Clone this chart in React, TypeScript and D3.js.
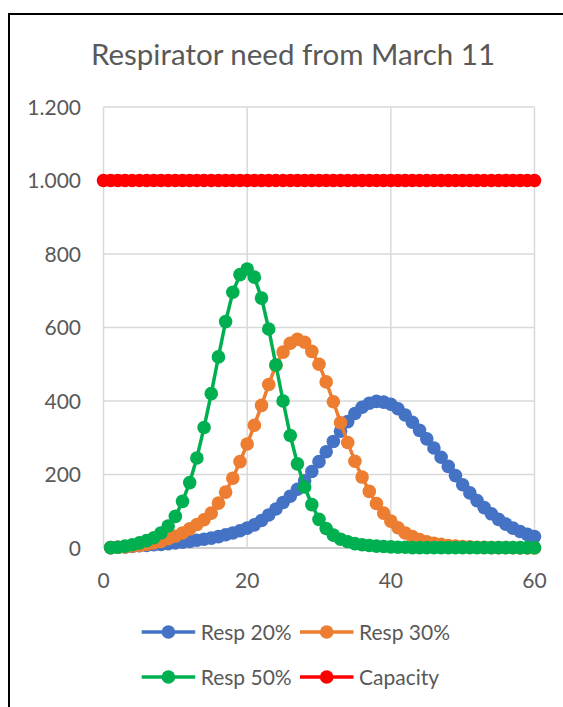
import { useEffect, useRef } from 'react';
import * as d3 from 'd3';

// Series, one value per day starting at day 1
const resp20 = [
  1, 2, 3, 4, 6, 7, 9, 10, 12, 14, 16, 18, 21, 24, 27, 31, 36, 41, 47, 54,
  63, 75, 90, 106, 124, 141, 160, 183, 208, 235, 262, 290, 318, 344, 366, 383, 394, 399, 397, 391,
  379, 362, 342, 320, 297, 272, 247, 222, 197, 172, 150, 129, 110, 93, 78, 65, 54, 45, 37, 31,
];
const resp30 = [
  1, 2, 3, 5, 7, 10, 14, 18, 25, 32, 41, 52, 64, 77, 95, 122, 152, 190, 235, 283,
  334, 388, 445, 497, 533, 557, 568, 560, 535, 500, 452, 398, 341, 287, 236, 193, 154, 121, 95, 73,
  55, 41, 31, 23, 17, 13, 10, 7, 5, 4, 3, 2, 2, 1, 1, 1, 1, 0, 0, 0,
];
const resp50 = [
  1, 2, 5, 9, 14, 20, 28, 41, 60, 86, 127, 178, 245, 328, 420, 520, 616, 696, 744, 759,
  737, 680, 596, 498, 400, 306, 229, 166, 118, 78, 53, 35, 24, 17, 12, 9, 7, 5, 4, 3,
  2, 2, 1, 1, 1, 1, 1, 1, 1, 1, 1, 1, 1, 1, 1, 1, 1, 1, 1, 1,
];
// Capacity starts at day 0
const capacity = [
  1000, 1000, 1000, 1000, 1000, 1000, 1000, 1000, 1000, 1000, 1000, 1000, 1000, 1000, 1000, 1000,
  1000, 1000, 1000, 1000, 1000, 1000, 1000, 1000, 1000, 1000, 1000, 1000, 1000, 1000, 1000, 1000,
  1000, 1000, 1000, 1000, 1000, 1000, 1000, 1000, 1000, 1000, 1000, 1000, 1000, 1000, 1000, 1000,
  1000, 1000, 1000, 1000, 1000, 1000, 1000, 1000, 1000, 1000, 1000, 1000, 1000,
];

const xTicks = [0, 20, 40, 60];
const yTicks = [0, 200, 400, 600, 800, 1000, 1200];

interface Series {
  name: string;
  color: string;
  start: number;
  values: number[];
}

const SERIES: Series[] = [
  { name: 'Resp 20%', color: '#4472C4', start: 1, values: resp20 },
  { name: 'Resp 30%', color: '#ED7D31', start: 1, values: resp30 },
  { name: 'Resp 50%', color: '#00B050', start: 1, values: resp50 },
  { name: 'Capacity', color: '#FF0000', start: 0, values: capacity },
];

const WIDTH = 563;
const HEIGHT = 707;
const PLOT = { left: 103.5, right: 534.5, top: 107, bottom: 548 };
const FONT = 'Lato, "Open Sans", sans-serif';
const TEXT = '#595959';
const R = 6.8;

// European number format: 1.000
const fmtY = (v: number) => d3.format(',')(v).replace(/,/g, '.');

export default function App() {
  const svgRef = useRef<SVGSVGElement>(null);

  useEffect(() => {
    if (!svgRef.current) return;
    const svg = d3.select(svgRef.current);
    svg.selectAll('*').remove();

    const x = d3.scaleLinear().domain([0, 60]).range([PLOT.left, PLOT.right]);
    const y = d3.scaleLinear().domain([0, 1200]).range([PLOT.bottom, PLOT.top]);

    svg.append('rect').attr('width', WIDTH).attr('height', HEIGHT).attr('fill', '#ffffff');

    // Chart frame (runs off the right and bottom of the picture)
    svg
      .append('rect')
      .attr('x', 9)
      .attr('y', 14)
      .attr('width', WIDTH + 40)
      .attr('height', HEIGHT + 40)
      .attr('fill', 'none')
      .attr('stroke', '#000000')
      .attr('stroke-width', 2);

    // Title
    svg
      .append('text')
      .attr('x', 293)
      .attr('y', 65)
      .attr('text-anchor', 'middle')
      .attr('font-family', FONT)
      .attr('font-size', '29.5px')
      .attr('fill', TEXT)
      .text('Respirator need from March 11');

    // Gridlines
    const grid = svg.append('g');
    yTicks.forEach(t => {
      grid
        .append('line')
        .attr('x1', PLOT.left)
        .attr('x2', PLOT.right)
        .attr('y1', y(t))
        .attr('y2', y(t))
        .attr('stroke', t === 0 ? '#BFBFBF' : '#D9D9D9')
        .attr('stroke-width', 1.5);
    });
    xTicks.forEach(t => {
      grid
        .append('line')
        .attr('x1', x(t))
        .attr('x2', x(t))
        .attr('y1', PLOT.top)
        .attr('y2', PLOT.bottom)
        .attr('stroke', '#D9D9D9')
        .attr('stroke-width', 1.5);
    });

    // Y tick labels
    yTicks.forEach(t => {
      svg
        .append('text')
        .attr('x', 81)
        .attr('y', y(t))
        .attr('dy', '0.36em')
        .attr('text-anchor', 'end')
        .attr('font-family', FONT)
        .attr('font-size', '21px')
        .attr('fill', TEXT)
        .text(fmtY(t));
    });

    // X tick labels
    xTicks.forEach(t => {
      svg
        .append('text')
        .attr('x', x(t))
        .attr('y', 580)
        .attr('dy', '0.36em')
        .attr('text-anchor', 'middle')
        .attr('font-family', FONT)
        .attr('font-size', '21px')
        .attr('fill', TEXT)
        .text(String(t));
    });

    // Series: line then markers, drawn in legend order
    const line = d3
      .line<[number, number]>()
      .x(d => x(d[0]))
      .y(d => y(d[1]));
    SERIES.forEach(s => {
      const pts: [number, number][] = s.values.map((v, i) => [s.start + i, v]);
      const g = svg.append('g');
      g.append('path')
        .attr('d', line(pts))
        .attr('fill', 'none')
        .attr('stroke', s.color)
        .attr('stroke-width', 3.5)
        .attr('stroke-linejoin', 'round');
      g.selectAll('circle')
        .data(pts)
        .enter()
        .append('circle')
        .attr('cx', d => x(d[0]))
        .attr('cy', d => y(d[1]))
        .attr('r', R)
        .attr('fill', s.color);
    });

    // Legend, two per row
    const legendCols = [141.7, 300];
    const legendRows = [632, 677];
    SERIES.forEach((s, i) => {
      const lx = legendCols[i % 2];
      const ly = legendRows[Math.floor(i / 2)];
      const g = svg.append('g').attr('transform', `translate(${lx}, ${ly})`);
      g.append('line')
        .attr('x1', 0)
        .attr('x2', 53.5)
        .attr('stroke', s.color)
        .attr('stroke-width', 3.5);
      g.append('circle').attr('cx', 26.7).attr('r', R).attr('fill', s.color);
      g.append('text')
        .attr('x', 59)
        .attr('dy', '0.36em')
        .attr('font-family', FONT)
        .attr('font-size', '21px')
        .attr('fill', TEXT)
        .text(s.name);
    });
  }, []);

  return (
    <div style={{ position: 'absolute', left: 0, top: 0 }}>
      <svg ref={svgRef} width={WIDTH} height={HEIGHT} style={{ display: 'block' }} />
    </div>
  );
}
